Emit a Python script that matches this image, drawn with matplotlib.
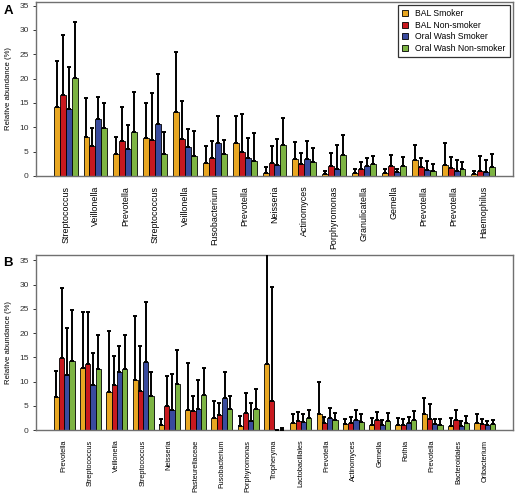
import numpy as np
import matplotlib
matplotlib.use("Agg")
import matplotlib.pyplot as plt
from matplotlib.patches import Patch

plt.rcParams['font.family'] = ['Liberation Sans', 'DejaVu Sans']

# series names and colours
groups = ["BAL Smoker", "BAL Non-smoker", "Oral Wash Smoker", "Oral Wash Non-smoker"]
colors = ["#E8A722", "#C8191E", "#3A4B9E", "#7DB443"]

# panel A: taxa, means and upper ends of the error bars
taxa_a = ["Streptococcus", "Veillonella", "Prevotella", "Streptococcus", "Veillonella",
          "Fusobacterium", "Prevotella", "Neisseria", "Actinomyces", "Porphyromonas",
          "Granulicatella", "Gemella", "Prevotella", "Prevotella", "Haemophilus"]
a_bal_smk = [14.2, 8.1, 4.5, 7.8, 13.2, 2.7, 6.8, 0.7, 3.4, 0.4, 0.7, 0.7, 3.2, 2.2, 0.35]
a_bal_smk_up = [23.7, 16.0, 8.0, 15.0, 25.5, 6.2, 12.4, 1.9, 7.0, 1.0, 1.4, 1.5, 6.4, 6.8, 1.0]
a_bal_non = [16.7, 6.2, 7.1, 7.3, 7.5, 3.6, 4.9, 2.7, 2.55, 2.1, 1.5, 2.0, 1.8, 1.7, 1.1]
a_bal_non_up = [28.9, 9.9, 14.1, 17.1, 15.4, 7.2, 12.7, 6.1, 4.8, 4.8, 2.9, 4.3, 3.7, 3.9, 4.2]
a_ow_smk = [13.7, 11.7, 5.6, 10.6, 6.0, 6.7, 3.7, 2.2, 3.4, 1.5, 2.0, 0.8, 1.3, 1.1, 0.9]
a_ow_smk_up = [22.4, 16.3, 10.4, 21.0, 9.7, 12.4, 7.9, 7.7, 7.1, 6.4, 3.7, 1.5, 3.1, 3.2, 3.2]
a_ow_non = [20.2, 9.8, 9.1, 4.6, 4.1, 4.5, 3.0, 6.3, 2.9, 4.3, 2.5, 2.1, 1.0, 1.45, 1.8]
a_ow_non_up = [31.6, 14.9, 17.3, 9.0, 9.2, 7.4, 8.9, 12.0, 5.8, 8.4, 4.1, 3.9, 2.5, 2.9, 4.5]

# panel B
taxa_b = ["Prevotella", "Streptococcus", "Veillonella", "Streptococcus", "Neisseria",
          "Pasteurellaceae", "Fusobacterium", "Porphyromonas", "Tropheryma", "Lactobacillales",
          "Prevotella", "Actinomyces", "Gemella", "Rothia", "Prevotella", "Bacteroidales",
          "Oribacterium"]
b_bal_smk = [6.9, 12.8, 7.8, 10.3, 1.0, 4.1, 2.4, 0.9, 13.7, 1.45, 3.2, 1.2, 1.0, 1.0, 3.3, 0.9, 1.4]
b_bal_smk_up = [12.2, 24.3, 20.4, 23.5, 2.2, 13.8, 5.9, 2.8, 40.0, 3.2, 9.8, 2.2, 2.5, 2.4, 6.5, 2.5, 3.4]
b_bal_non = [14.8, 13.7, 9.3, 8.1, 5.0, 3.85, 3.0, 3.5, 6.0, 1.9, 1.5, 1.45, 2.0, 1.0, 2.3, 2.1, 1.2]
b_bal_non_up = [29.3, 24.3, 15.2, 17.4, 11.1, 7.1, 5.5, 7.7, 29.4, 3.7, 2.7, 2.7, 3.8, 2.3, 5.4, 4.1, 2.3]
b_ow_smk = [11.3, 9.2, 11.9, 14.0, 4.1, 4.3, 6.7, 1.8, 0.0, 1.7, 2.4, 2.0, 1.0, 1.45, 1.3, 0.8, 1.0]
b_ow_smk_up = [21.0, 15.8, 17.4, 26.5, 11.6, 10.4, 12.0, 5.6, 0.0, 3.4, 4.6, 4.1, 2.1, 2.75, 2.3, 1.9, 1.8]
b_ow_non = [14.3, 12.6, 12.6, 7.1, 9.4, 7.3, 4.3, 4.3, 0.1, 2.5, 2.0, 1.7, 1.8, 2.0, 1.1, 1.5, 1.2]
b_ow_non_up = [24.8, 19.5, 19.6, 12.0, 16.6, 12.7, 7.1, 8.5, 0.35, 4.2, 3.6, 3.2, 3.6, 4.0, 2.3, 2.9, 2.1]


def panel(ax, taxa, means, ups, letter, ytop, label_size):
    n = len(taxa)
    base = 1 + 5 * np.arange(n)   # R barplot style: 4 bars then a gap of one bar
    for k, (m, u) in enumerate(zip(means, ups)):
        m = np.array(m)
        err = np.array(u) - m
        x = base + k + 0.5
        ax.bar(x, m, width=1.0, color=colors[k], edgecolor='black', linewidth=0.6, zorder=2)
        ax.errorbar(x, m, yerr=[np.zeros(n), err], fmt='none', ecolor='black',
                    elinewidth=1.4, capsize=1.7, capthick=1.4, zorder=3)
    w_r = base[-1] + 4
    pad = 0.04 * (w_r - 1)
    ax.set_xlim(1 - pad, w_r + pad)
    ax.set_ylim(0, ytop)
    ax.set_yticks(range(0, 36, 5))
    ax.tick_params(axis='y', labelsize=6, length=2.2, width=0.7, pad=3, colors='#333333')
    ax.set_xticks(base + 2)
    ax.set_xticklabels(taxa, rotation=90, fontsize=label_size, va='top')
    ax.tick_params(axis='x', length=0, pad=7)
    ax.set_ylabel('Relative abundance (%)', fontsize=5.6, labelpad=5)
    for s in ax.spines.values():
        s.set_color('#707070')
        s.set_linewidth(1.0)
    ax.text(-0.068, 0.985, letter, transform=ax.transAxes, fontsize=9.5,
            fontweight='bold', ha='left', va='top')


fig = plt.figure(figsize=(5.15, 4.97), dpi=100)
ax1 = fig.add_axes([0.0699, 0.6459, 0.9262, 0.3501])
ax2 = fig.add_axes([0.0699, 0.1348, 0.9262, 0.3527])

panel(ax1, taxa_a, [a_bal_smk, a_bal_non, a_ow_smk, a_ow_non],
      [a_bal_smk_up, a_bal_non_up, a_ow_smk_up, a_ow_non_up], 'A', 35.75, 6.4)
panel(ax2, taxa_b, [b_bal_smk, b_bal_non, b_ow_smk, b_ow_non],
      [b_bal_smk_up, b_bal_non_up, b_ow_smk_up, b_ow_non_up], 'B', 36.15, 5.3)

handles = [Patch(facecolor=c, edgecolor='black', linewidth=0.6) for c in colors]
leg = ax1.legend(handles, groups, loc='upper right', fontsize=6.2, frameon=True,
                 fancybox=False, edgecolor='black', handlelength=0.7, handleheight=0.7,
                 handletextpad=0.8, labelspacing=0.3, borderaxespad=0.35, borderpad=0.5)
leg.get_frame().set_linewidth(0.9)

fig.savefig('out.png', dpi=100)
